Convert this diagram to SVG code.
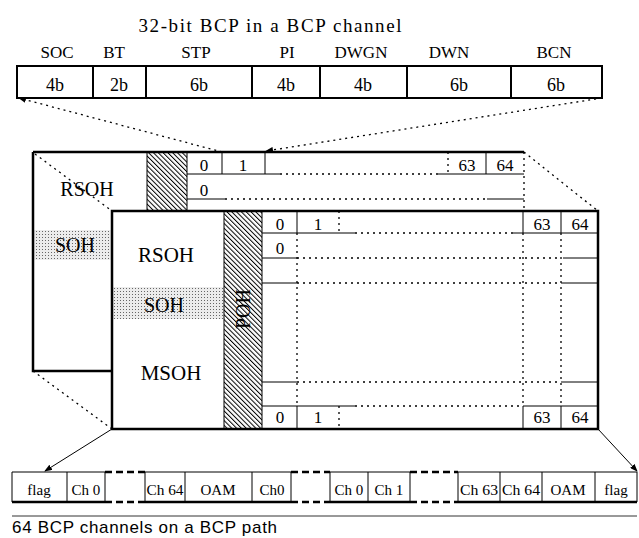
<svg xmlns="http://www.w3.org/2000/svg" width="639" height="538" viewBox="0 0 639 538">
<style>
.t{font-family:"Liberation Serif","Times New Roman",serif;fill:#000;text-anchor:middle}
.s{font-family:"Liberation Sans",Arial,sans-serif;fill:#000}
.thick{stroke:#000;stroke-width:2.5;fill:none}
.med{stroke:#000;stroke-width:2;fill:none}
.thin{stroke:#000;stroke-width:1;fill:none}
.dot{stroke:#000;stroke-width:1.3;fill:none;stroke-dasharray:2,4}
.gap{stroke:#000;stroke-width:2.5;fill:none;stroke-dasharray:7,4}
</style>
<defs>
<pattern id="hatch" patternUnits="userSpaceOnUse" width="3.4" height="3.4" patternTransform="rotate(-45)">
<rect width="3.4" height="3.4" fill="#fff"/>
<line x1="0" y1="0" x2="0" y2="3.4" stroke="#000" stroke-width="2"/>
</pattern>
<pattern id="stip" patternUnits="userSpaceOnUse" width="3" height="3">
<rect width="3" height="3" fill="#ececec"/>
<rect width="1" height="1" fill="#666"/>
</pattern>
<marker id="ah" markerWidth="8" markerHeight="6" refX="7" refY="3" orient="auto" markerUnits="userSpaceOnUse">
<path d="M0,0 L8,3 L0,6 Z" fill="#000"/>
</marker>
</defs>

<g id="bcp-box">
<text class="t" x="270" y="32" font-size="19" textLength="263" lengthAdjust="spacing">32-bit  BCP in a BCP channel</text>
<text class="t" x="57" y="58" font-size="17">SOC</text>
<text class="t" x="114" y="58" font-size="17">BT</text>
<text class="t" x="196" y="58" font-size="17">STP</text>
<text class="t" x="287" y="58" font-size="17">PI</text>
<text class="t" x="361" y="58" font-size="17">DWGN</text>
<text class="t" x="449" y="58" font-size="17">DWN</text>
<text class="t" x="554" y="58" font-size="17">BCN</text>
<rect class="med" x="17" y="66" width="585" height="32"/>
<path class="med" d="M93,66V98M146,66V98M252,66V98M320,66V98M407,66V98M511,66V98"/>
<text class="t" x="55" y="91" font-size="18">4b</text>
<text class="t" x="119" y="91" font-size="18">2b</text>
<text class="t" x="199" y="91" font-size="18">6b</text>
<text class="t" x="286" y="91" font-size="18">4b</text>
<text class="t" x="363" y="91" font-size="18">4b</text>
<text class="t" x="459" y="91" font-size="18">6b</text>
<text class="t" x="556" y="91" font-size="18">6b</text>
</g>

<g id="back-frame">
<rect x="33" y="230" width="79" height="30" fill="url(#stip)"/>
<rect x="147" y="152" width="40" height="59" fill="url(#hatch)"/>
<path class="thin" d="M147,152V211M187,152V211"/>
<path class="thick" d="M33,152H524M33,152V371H112"/>
<path class="dot" d="M524,152V211"/>
<text class="t" x="87" y="196" font-size="20">RSOH</text>
<text class="t" x="75" y="252" font-size="20">SOH</text>
<path class="thin" d="M187,174H280M438,174H524M187,199H225M487,199H524M222,152V174M265,152V174M486,152V174"/>
<path class="dot" d="M280,174H438M225,199H487M448,152V174"/>
<text class="t" x="204" y="171" font-size="17">0</text>
<text class="t" x="243" y="171" font-size="17">1</text>
<text class="t" x="467" y="171" font-size="17">63</text>
<text class="t" x="505" y="171" font-size="17">64</text>
<text class="t" x="204" y="196" font-size="17">0</text>
</g>

<g id="front-frame">
<rect x="112" y="211" width="486" height="218" fill="#fff"/>
<rect x="112" y="287" width="112" height="32" fill="url(#stip)"/>
<rect x="224" y="211" width="38" height="218" fill="url(#hatch)"/>
<path class="thin" d="M224,211V429M262,211V429"/>
<rect class="thick" x="112" y="211" width="486" height="218"/>
<text class="t" x="166" y="262" font-size="21">RSOH</text>
<text class="t" x="164" y="312" font-size="20">SOH</text>
<text class="t" x="171" y="380" font-size="21">MSOH</text>
<text class="t" font-size="20" transform="translate(250,309) rotate(-90)">POH</text>
<path class="thin" d="M262,233H355M513,233H598M297,211V233M523,211V233M561,211V233"/>
<path class="dot" d="M355,233H513M339,211V233"/>
<path class="thin" d="M262,258H297M563,258H598M262,283H297M561,283H598M262,382H297M561,382H598"/>
<path class="dot" d="M297,258H561M297,283H561M297,382H561M297,233V406M523,233V406M561,233V406"/>
<path class="thin" d="M262,406H355M523,406H598M297,406V429M523,406V429M561,406V429"/>
<path class="dot" d="M355,406H523M339,406V429"/>
<text class="t" x="280" y="230" font-size="17">0</text>
<text class="t" x="318" y="230" font-size="17">1</text>
<text class="t" x="542" y="230" font-size="17">63</text>
<text class="t" x="580" y="230" font-size="17">64</text>
<text class="t" x="280" y="254" font-size="17">0</text>
<text class="t" x="280" y="423" font-size="17">0</text>
<text class="t" x="318" y="423" font-size="17">1</text>
<text class="t" x="542" y="423" font-size="17">63</text>
<text class="t" x="580" y="423" font-size="17">64</text>
</g>

<g id="bcp-path">
<path class="thin" d="M12,472H105M145,472H291M330,472H410M458,472H637"/>
<path class="thick" d="M12,502H105M145,502H291M330,502H410M458,502H637"/>
<path class="gap" d="M105,472H145M105,502H145M291,472H330M291,502H330M410,472H458M410,502H458"/>
<path class="thin" d="M12,472V502M67,472V502M105,472V502M145,472V502M185,472V502M252,472V502M291,472V502M330,472V502M368,472V502M410,472V502M458,472V502M500,472V502M542,472V502M595,472V502M637,472V502"/>
<text class="t" x="39" y="495" font-size="15">flag</text>
<text class="t" x="86" y="495" font-size="15">Ch 0</text>
<text class="t" x="165" y="495" font-size="15" textLength="37" lengthAdjust="spacingAndGlyphs">Ch 64</text>
<text class="t" x="218" y="495" font-size="15">OAM</text>
<text class="t" x="272" y="495" font-size="15">Ch0</text>
<text class="t" x="349" y="495" font-size="15">Ch 0</text>
<text class="t" x="389" y="495" font-size="15">Ch 1</text>
<text class="t" x="479" y="495" font-size="15" textLength="38" lengthAdjust="spacingAndGlyphs">Ch 63</text>
<text class="t" x="521" y="495" font-size="15" textLength="38" lengthAdjust="spacingAndGlyphs">Ch 64</text>
<text class="t" x="568" y="495" font-size="15">OAM</text>
<text class="t" x="616" y="495" font-size="15">flag</text>
<path d="M12,516H637" stroke="#333" stroke-width="1"/>
<text class="s" x="12" y="533" font-size="17" textLength="265" lengthAdjust="spacing">64 BCP channels on a BCP path</text>
</g>

<g id="connectors">
<path class="dot" d="M222,152L19,98" marker-end="url(#ah)"/>
<path class="dot" d="M602,98L266,151" marker-end="url(#ah)"/>
<path class="dot" d="M35,154L112,211M524,152L598,211M33,371L112,429"/>
<path d="M112,429L45,471" stroke="#000" stroke-width="1" fill="none" marker-end="url(#ah)"/>
<path d="M598,429L637,471" stroke="#000" stroke-width="1" fill="none" marker-end="url(#ah)"/>
</g>
</svg>
